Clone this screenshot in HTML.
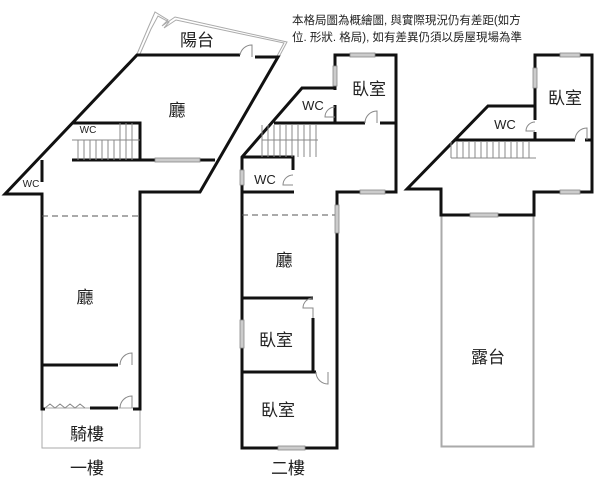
<!DOCTYPE html>
<html><head><meta charset="utf-8"><style>
html,body{margin:0;padding:0;background:#fff;width:600px;height:480px;overflow:hidden}
text{font-family:"Liberation Sans","Noto Sans CJK TC",sans-serif;fill:#222}
</style></head><body>
<svg width="600" height="480" viewBox="0 0 600 480" xmlns="http://www.w3.org/2000/svg">
<g fill="none" stroke="#aaa" stroke-width="1">
<polyline points="137,54 148,28 155,12 168,20 162,26 175,17 287,42 279,57"/>
<polyline points="140,54 151,29 158,16 169,22 164,28 176,20 284,43 277,56"/>
<rect x="42" y="408" width="98" height="40"/>
<rect x="441" y="215" width="93" height="232"/>
<rect x="442" y="216" width="91" height="230"/>
</g>
<g fill="none" stroke="#111" stroke-width="3" stroke-linejoin="miter">
<polyline points="240,55 137,55 5,194 42,194 42,409 45,409"/>
<polyline points="255,57 278,57 200,192 140,192 140,409 133,409"/>
<polyline points="72,123 110,123 110,123 140,123 140,160 155,160"/>
<line x1="72" y1="160" x2="140" y2="160"/>
<line x1="200" y1="160" x2="215" y2="160"/>
<line x1="42" y1="365" x2="118" y2="365"/>
<line x1="90" y1="408" x2="118" y2="408"/>
<line x1="42" y1="160" x2="42" y2="182"/>
<polyline points="335,90 335,55 396,55 396,192 337,192 337,448 305,448"/>
<polyline points="278,448 242,448 242,157 302,88 335,88"/>
<line x1="274" y1="123" x2="365" y2="123"/>
<line x1="380" y1="123" x2="396" y2="123"/>
<line x1="335" y1="105" x2="335" y2="123"/>
<polyline points="242,157 293,157 293,170"/>
<line x1="242" y1="192" x2="294" y2="192"/>
<polyline points="242,298 313,298"/>
<line x1="313" y1="318" x2="313" y2="372"/>
<line x1="242" y1="372" x2="316" y2="372"/>
<polyline points="535,120 535,55 592,55 592,192 575,192"/>
<polyline points="560,192 534,192 534,215 441,215 441,189 407,189 488,106 535,106"/>
<line x1="455" y1="140" x2="575" y2="140"/>
<line x1="585" y1="140" x2="592" y2="140"/>
<line x1="535" y1="132" x2="535" y2="140"/>
</g>
<g fill="none" stroke="#888" stroke-width="1">
<path d="M78,140V160M84,140V160M90,140V160M96,140V160M102,140V160M108,140V160M114,140V160M120,123V160M126,123V160M132,123V160M72,140H140"/>
<path d="M262,125V157M268,125V157M274,125V157M280,125V157M286,125V157M292,125V157M298,125V157M304,125V157M310,125V157M316,125V157M262,140H318"/>
<path d="M451,142V158M457,142V158M463,142V158M469,142V158M475,142V158M481,142V158M487,142V158M493,142V158M499,142V158M505,142V158M511,142V158M517,142V158M523,142V158M529,142V158M451,158H536"/>
<path d="M240,55 A12,12 0 0 1 252,45 V57"/>
<path d="M120,365 A12,12 0 0 1 132,353 V365"/>
<path d="M120,408 A12,12 0 0 1 132,396 V408"/>
<path d="M365,123 A12,12 0 0 1 377,111 V123"/>
<path d="M335,107 A10,10 0 0 0 325,117 H335"/>
<path d="M293,175 A10,10 0 0 0 283,185 H293"/>
<path d="M313,298 A10,10 0 0 0 303,308 H313 V318"/>
<path d="M316,372 A12,12 0 0 0 328,384 V372"/>
<path d="M575,140 A12,12 0 0 1 587,128 V140"/>
<path d="M535,122 A9,9 0 0 0 526,131 H535"/>
<path d="M45,408 l5,-4 5,4 5,-4 5,4 5,-4 5,4 5,-4 5,4"/>
</g>
<g fill="none" stroke="#555" stroke-dasharray="6,4" stroke-width="1">
<line x1="42" y1="216" x2="140" y2="216"/>
<line x1="242" y1="215" x2="337" y2="215"/>
</g>
<g fill="#ccc" stroke="#888" stroke-width="0.8">
<rect x="155" y="158" width="45" height="4"/>
<rect x="278" y="446" width="27" height="4"/>
<rect x="360" y="190" width="25" height="4"/>
<rect x="350" y="53" width="25" height="4"/>
<rect x="333" y="66" width="4" height="20"/>
<rect x="240" y="320" width="4" height="28"/>
<rect x="240" y="170" width="4" height="15"/>
<rect x="335" y="205" width="4" height="28"/>
<rect x="560" y="53" width="20" height="4"/>
<rect x="533" y="68" width="4" height="20"/>
<rect x="560" y="190" width="20" height="4"/>
<rect x="470" y="213" width="28" height="4"/>
</g>
<g font-size="17" text-anchor="middle">
<text x="197" y="46">陽台</text>
<text x="177" y="116">廳</text>
<text x="85" y="303">廳</text>
<text x="87" y="440">騎樓</text>
<text x="87" y="474">一樓</text>
<text x="369" y="95">臥室</text>
<text x="284" y="266">廳</text>
<text x="276" y="346">臥室</text>
<text x="278" y="416">臥室</text>
<text x="288" y="474">二樓</text>
<text x="565" y="104">臥室</text>
<text x="488" y="363">露台</text>
</g>
<g font-size="13" text-anchor="middle">
<text x="313" y="110">WC</text>
<text x="265" y="184">WC</text>
<text x="505" y="129">WC</text>
</g>
<g font-size="10" text-anchor="middle">
<text x="88" y="133">WC</text>
<text x="31" y="187">WC</text>
</g>
<g font-size="11.5">
<text x="292" y="24">本格局圖為概繪圖, 與實際現況仍有差距(如方</text>
<text x="292" y="41">位. 形狀. 格局), 如有差異仍須以房屋現場為準</text>
</g>
</svg>
</body></html>
